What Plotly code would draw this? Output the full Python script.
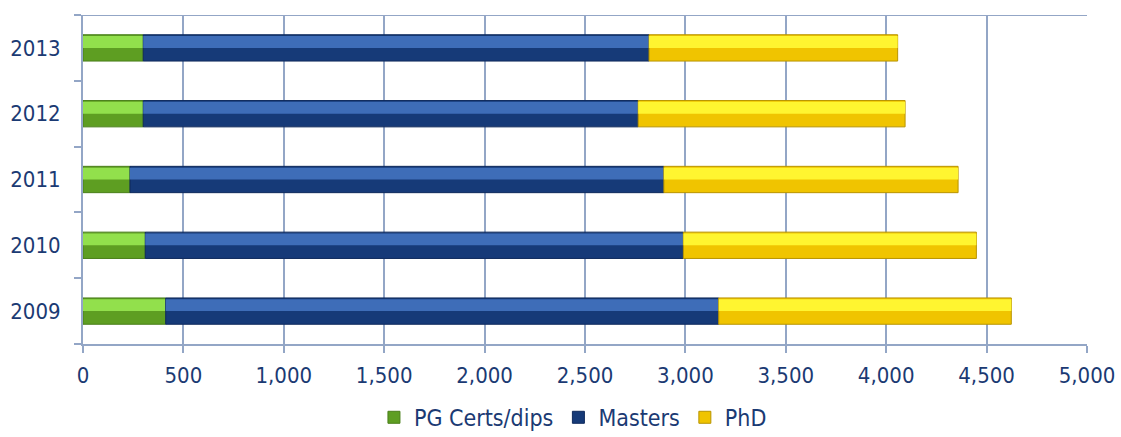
import plotly.graph_objects as go
import numpy as np

years = ["2009", "2010", "2011", "2012", "2013"]
pg_certs = [412, 310, 234, 300, 300]
masters = [2754, 2680, 2659, 2465, 2519]
phd = [1457, 1459, 1465, 1329, 1238]

x_ticks = list(range(0, 5001, 500))

series = [
    ("PG Certs/dips", pg_certs, "#5E9E22", "#92E04C", "#4A7F1A"),
    ("Masters", masters, "#163A78", "#3E6DB8", "#0F2A5C"),
    ("PhD", phd, "#F0C400", "#FFF530", "#B89400"),
]

FONT = "DejaVu Sans Condensed, Noto Sans, sans-serif"
TXT = "#1B3A73"
GRID = "#93A6C6"

fig = go.Figure()
base = np.zeros(len(years))
for name, vals, dark, light, edge in series:
    v = np.array(vals, dtype=float)
    fig.add_trace(go.Bar(
        y=years, x=v, base=base, orientation="h", name=name,
        width=0.4, offset=-0.2,
        marker=dict(color=dark, line=dict(color=edge, width=1)),
        hoverinfo="x+name",
    ))
    fig.add_trace(go.Bar(
        y=years, x=v, base=base, orientation="h", name=name + " hl",
        width=0.18, offset=0.0,
        marker=dict(color=light, line=dict(width=0)),
        showlegend=False, hoverinfo="skip",
    ))
    base = base + v

fig.add_shape(type="line", xref="paper", yref="y", x0=-0.007, x1=1, y0=4.5, y1=4.5,
              line=dict(color=GRID, width=2))

fig.update_layout(
    width=1121, height=437,
    barmode="overlay",
    plot_bgcolor="white", paper_bgcolor="white",
    margin=dict(l=83, r=34, t=15, b=93, autoexpand=False),
    font=dict(family=FONT, size=22, color=TXT),
    showlegend=True,
    legend=dict(orientation="h", x=0.488, xanchor="center",
                yref="container", y=0.045, yanchor="middle",
                font=dict(size=23, color=TXT), traceorder="normal",
                itemwidth=30, tracegroupgap=0),
    xaxis=dict(range=[0, 5000], tickvals=x_ticks, tickformat=",",
               showgrid=True, gridcolor=GRID, gridwidth=2,
               showline=True, linecolor=GRID, linewidth=2,
               ticks="outside", ticklen=7, tickcolor=GRID, tickwidth=2,
               ticklabelstandoff=4,
               zeroline=False, fixedrange=True, automargin=False),
    yaxis=dict(type="category", categoryorder="array", categoryarray=years,
               range=[-0.5, 4.5], showgrid=False,
               showline=True, linecolor=GRID, linewidth=2,
               ticks="outside", tickson="boundaries", ticklen=7, tickcolor=GRID, tickwidth=2,
               ticklabelstandoff=16, zeroline=False, fixedrange=True, automargin=False),
)

fig.write_html(
    "out.html",
    config={"displayModeBar": False},
    post_script="document.body.style.margin='0';document.body.style.overflow='hidden';",
)
